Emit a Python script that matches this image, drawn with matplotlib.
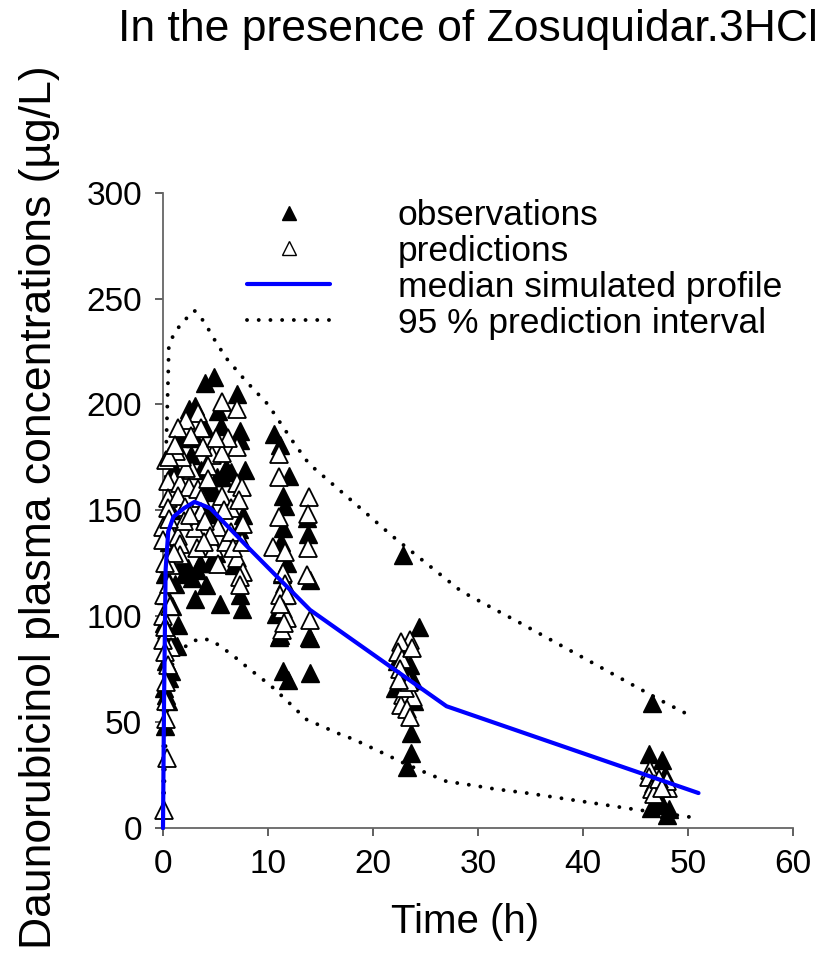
import matplotlib
matplotlib.use("Agg")
import matplotlib.pyplot as plt
from matplotlib.lines import Line2D

plt.rcParams["font.family"] = ["Liberation Sans", "DejaVu Sans"]

# Observed concentrations (time h, ug/L)
obs_t = [0.2, 0.5, 0.3, 0.1, 0.6, 0.8, 0.3, 0.7, 0.1, 0.9, 1.3, 1.4, 1.1, 0.5, 0.3, 0.2, 0.6, 1.0, 0.8, 0.4,
         4.0, 4.9, 7.0, 3.0, 2.5, 5.2, 4.0, 1.6, 3.0, 7.3, 7.3, 2.7, 3.6, 5.1, 5.6, 6.5, 7.8, 4.9, 4.7, 7.6,
         7.2, 2.4, 3.2, 6.8, 4.1, 7.3, 3.0, 5.4, 7.5, 2.0, 2.8, 1.8, 3.5, 4.5, 5.0, 6.0, 5.5, 4.2, 3.8,
         10.6, 11.1, 12.0, 11.4, 11.6, 13.7, 11.4, 13.8, 11.8, 14.0, 10.8, 11.1, 14.0, 11.4, 11.9, 14.0,
         11.0, 13.9, 11.2, 11.5, 11.3,
         22.9, 24.4, 22.3, 23.5, 23.8, 22.1, 23.6, 23.6, 23.2, 23.0, 22.6, 23.9,
         46.6, 46.3, 47.5, 46.5, 47.5, 48.0, 48.2, 47.2, 47.8]
obs_c = [48, 60, 63, 66, 71, 74, 79, 90, 97, 105, 86, 96, 115, 125, 110, 120, 135, 170, 150, 140,
         210, 213, 205, 199.5, 198, 197, 188.7, 184, 184, 187.7, 183, 176, 169, 165.7, 165.7, 168, 169, 158.6, 148.5, 147.6,
         141, 123, 122, 124, 114.6, 110, 108, 106, 103.6, 120, 118, 125, 125, 125, 130, 170, 190, 160, 152,
         186, 181, 166, 157, 152, 146.5, 141.5, 139, 125, 117, 101, 91, 89.5, 74, 70, 73,
         90, 90, 135, 110, 120,
         129, 95, 79, 77, 70, 66, 44.7, 35.2, 29, 72, 83, 60,
         58.8, 34.9, 32, 9.3, 11, 6.1, 9, 14, 25]

# Individual predicted concentrations
pred_t = [5.6, 7.0, 3.3, 2.2, 1.4, 3.6, 7.0, 0.3, 4.7, 5.6, 1.0, 2.8, 4.3, 7.0, 7.5, 0.5, 1.6, 2.5, 3.3, 0.5,
          1.4, 3.6, 5.6, 0.5, 2.1, 3.6, 6.5, 7.6, 0.0, 0.8, 1.4, 3.0, 5.2, 0.0, 1.6, 3.2, 4.9, 1.6, 5.2, 7.0,
          7.6, 0.8, 7.3, 7.3, 0.1, 0.6, 0.0, 0.4, 0.8, 0.0, 0.2, 0.5, 0.3, 0.3, 0.4, 0.1,
          2.0, 2.6, 4.0, 4.5, 6.0, 6.5, 2.2, 1.8, 3.8, 1.2, 6.2, 5.0, 0.6, 1.0, 0.2, 0.7, 0.2, 0.3, 0.6,
          1.1, 2.7, 4.3, 5.8, 6.7, 7.2, 7.5, 3.9,
          11.0, 11.0, 13.9, 13.8, 11.0, 10.5, 11.6, 13.8, 11.4, 13.7, 11.6, 11.1, 11.8, 11.4, 11.8, 11.3,
          14.0, 11.1, 11.5,
          23.5, 22.7, 22.4, 22.8, 22.9, 23.8, 22.7, 23.2, 23.5, 23.0, 23.4, 22.6, 23.7, 22.5,
          46.4, 46.3, 46.8, 48.1, 46.6, 46.8, 48.0, 47.2, 47.5]
pred_c = [201, 198, 196, 192.5, 189, 189, 180, 173.6, 176, 177, 165, 169, 171, 163, 161, 164, 163, 161, 160, 156,
          157, 156, 157, 151, 151.5, 149, 151, 143.5, 142, 139, 138, 141.5, 142, 136, 134, 132, 132, 128.7, 124.7, 127.7,
          120.8, 124, 118.4, 114.6, 110, 115, 100, 93.5, 85.5, 89, 83, 77, 68.8, 51.5, 33, 8.5,
          145, 148, 145, 138, 135, 140, 170, 175, 180, 178, 184, 184, 146, 130, 125, 105, 95, 60, 175,
          181, 185, 165, 150, 132, 155, 135, 135,
          176.7, 165.7, 156.3, 148.4, 146.8, 132.7, 130.3, 132, 120.3, 119.3, 115, 110, 110, 103.6, 99, 93.4,
          98, 106, 97,
          88.7, 88, 83, 80, 62.7, 62, 58, 56, 52.5, 66, 69, 75, 85, 70,
          27.4, 24, 21, 18.7, 18.4, 16, 22, 23, 19]

# Median simulated profile
med_t = [0, 0.1, 0.25, 0.5, 1, 2, 3, 4.5, 8, 14, 27, 51]
med_c = [0, 60, 122, 140, 147, 151, 154, 151, 133, 103, 57.5, 16.5]

# 95 % prediction interval bounds
up_t = [0, 0.1, 0.25, 0.5, 0.55, 1.0, 1.8, 3.0, 4.0, 4.6, 6.0, 7.9, 10.0, 12.3, 13.9, 16.1, 19.5, 21.8,
        28.4, 31.8, 34.1, 44.2, 47.5, 49.8]
up_c = [0, 100, 170, 215, 227, 233, 238.6, 244.3, 238.6, 233, 222, 211, 200, 183, 172, 162.6, 148, 138,
        111.8, 102.7, 96.6, 69, 60, 54.1]
lo_t = [0, 0.25, 0.5, 1, 2.4, 3.5, 4.6, 5.7, 6.9, 8, 9.1, 10.2, 11.4, 12.5, 13.6, 14.7, 16.9, 18.1, 21.5,
        22.5, 24.8, 27, 29.3, 31.5, 34.8, 41.6, 44.9, 50.6]
lo_c = [0, 40, 65, 80, 87, 89.5, 88.7, 85, 80.5, 76, 71.7, 67.5, 62, 56.8, 51.4, 49, 44.2, 42, 34.1,
        31.6, 26.6, 22, 20.3, 18.5, 16.4, 11.3, 8.8, 4.9]

x_ticks = [0, 10, 20, 30, 40, 50, 60]
y_ticks = [0, 50, 100, 150, 200, 250, 300]
legend_labels = ["observations", "predictions", "median simulated profile", "95 % prediction interval"]

W, H = 825, 976
fig = plt.figure(figsize=(W / 100, H / 100), dpi=100)
ax = fig.add_axes([163 / W, 1 - 828 / H, (793 - 163) / W, (828 - 192.7) / H])

dot_style = dict(color="black", lw=2.8, linestyle=(0, (0.01, 3.0)), dash_capstyle="round")
ax.plot(up_t, up_c, **dot_style, zorder=2, clip_on=False)
ax.plot(lo_t, lo_c, **dot_style, zorder=2, clip_on=False)

ax.plot(obs_t, obs_c, linestyle="none", marker="^", ms=13, mfc="black", mec="black", mew=1.0,
        zorder=3, clip_on=False)
ax.plot(pred_t, pred_c, linestyle="none", marker="^", ms=13, mfc="white", mec="black", mew=1.3,
        zorder=4, clip_on=False)

ax.plot(med_t, med_c, color="#0000ff", lw=3.0, zorder=5, solid_capstyle="round", clip_on=False)

ax.set_xlim(0, 60)
ax.set_ylim(0, 300)
ax.set_xticks(x_ticks)
ax.set_yticks(y_ticks)
ax.spines["top"].set_visible(False)
ax.spines["right"].set_visible(False)
for s in ("left", "bottom"):
    ax.spines[s].set_color("#666666")
    ax.spines[s].set_linewidth(1.3)
ax.tick_params(axis="both", direction="out", length=6, width=1.2, color="#444444",
               labelsize=24, pad=9)

handles = [
    Line2D([], [], linestyle="none", marker="^", ms=10, mfc="black", mec="black"),
    Line2D([], [], linestyle="none", marker="^", ms=10, mfc="white", mec="black", mew=1.0),
    Line2D([], [], color="#0000ff", lw=3.0, solid_capstyle="round"),
    Line2D([], [], **dot_style),
]
fig.legend(handles, legend_labels, loc="upper left", bbox_to_anchor=(247 / W, 1 - 199 / H),
           frameon=False, fontsize=25.5, handlelength=2.35, handletextpad=1.9,
           labelspacing=0.08, borderpad=0, borderaxespad=0)

fig.text(118 / W, 1 - 30 / H, "In the presence of Zosuquidar.3HCl", fontsize=32, ha="left", va="center")
fig.text(465 / W, 1 - 922 / H, "Time (h)", fontsize=29, ha="center", va="center")
fig.text(40 / W, 1 - 507 / H, "Daunorubicinol plasma concentrations (\u00b5g/L)", fontsize=32,
         rotation=90, ha="center", va="center")

fig.savefig("out.png", dpi=100)
